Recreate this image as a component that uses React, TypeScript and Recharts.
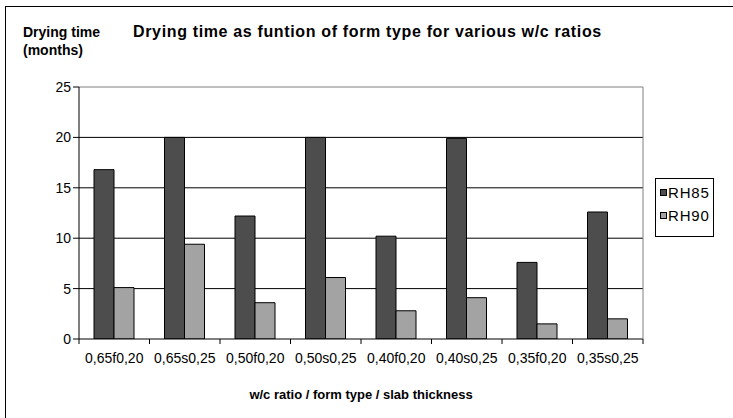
import { BarChart, Bar, XAxis, YAxis, CartesianGrid, Legend, ReferenceLine } from "recharts";

const categories = [
  "0,65f0,20",
  "0,65s0,25",
  "0,50f0,20",
  "0,50s0,25",
  "0,40f0,20",
  "0,40s0,25",
  "0,35f0,20",
  "0,35s0,25",
];
const rh85 = [16.8, 20, 12.2, 20, 10.2, 19.9, 7.6, 12.6];
const rh90 = [5.1, 9.4, 3.6, 6.1, 2.8, 4.1, 1.5, 2.0];
const yTicks = [0, 5, 10, 15, 20, 25];
const gridValues = [5, 10, 15, 20];

const data = categories.map((name, i) => ({ name, RH85: rh85[i], RH90: rh90[i] }));

const FONT = '"Liberation Sans", Arial, sans-serif';
const DARK = "#4d4d4d";
const LIGHT = "#a3a3a3";

function CategoryTick(props: any) {
  const { x, y, payload, index, visibleTicksCount } = props;
  const half = payload.offset ?? 0;
  const axisY = y - 8;
  const isLast = index === visibleTicksCount - 1;
  return (
    <g>
      <line x1={x - half} x2={x - half} y1={axisY} y2={axisY + 5} stroke="#000" />
      {isLast && <line x1={x + half} x2={x + half} y1={axisY} y2={axisY + 5} stroke="#000" />}
      <text x={x} y={y + 6} dy="0.71em" textAnchor="middle" fill="#000" fontSize={14} fontFamily={FONT}>
        {payload.value}
      </text>
    </g>
  );
}

function LegendBox(props: any) {
  const items = props.payload || [];
  return (
    <div
      style={{
        border: "1px solid #000",
        background: "#fff",
        padding: "2px 2px 9px 4px",
        fontFamily: FONT,
        fontSize: 15,
      }}
    >
      {items.map((it: any) => (
        <div key={it.value} style={{ display: "flex", alignItems: "center", height: 23 }}>
          <span
            style={{
              display: "inline-block",
              width: 5,
              height: 5,
              border: "1px solid #000",
              background: it.color,
              marginRight: 1,
            }}
          />
          <span style={{ letterSpacing: 0.8 }}>{it.value}</span>
        </div>
      ))}
    </div>
  );
}

export default function App() {
  return (
    <div
      style={{
        position: "absolute",
        left: 0,
        top: 0,
        width: 733,
        height: 418,
        overflow: "hidden",
        background: "#fff",
        fontFamily: FONT,
      }}
    >
      <div
        style={{
          position: "absolute",
          left: 5,
          top: 6,
          width: 800,
          height: 500,
          border: "1px solid #000",
        }}
      />
      <div
        style={{
          position: "absolute",
          left: 23,
          top: 23,
          fontSize: 14,
          fontWeight: "bold",
          lineHeight: "18px",
        }}
      >
        Drying time
        <br />
        (months)
      </div>
      <div
        style={{
          position: "absolute",
          left: 133,
          top: 23,
          fontSize: 16,
          fontWeight: "bold",
          lineHeight: "18px",
          letterSpacing: 0.65,
          whiteSpace: "nowrap",
        }}
      >
        Drying time as funtion of form type for various w/c ratios
      </div>
      <div
        style={{
          position: "absolute",
          left: 79,
          width: 564,
          top: 386,
          textAlign: "center",
          fontSize: 13,
          fontWeight: "bold",
          lineHeight: "18px",
        }}
      >
        w/c ratio / form type / slab thickness
      </div>
      <div style={{ position: "absolute", left: 0, top: 0 }}>
        <BarChart
          width={733}
          height={418}
          data={data}
          margin={{ top: 87, right: 89, left: 0, bottom: 0 }}
          barGap={0}
          barSize={20}
        >
          <CartesianGrid vertical={false} horizontalValues={gridValues} stroke="#000" />
          <ReferenceLine y={25} stroke="#808080" />
          <XAxis
            dataKey="name"
            height={79}
            tickLine={false}
            axisLine={{ stroke: "#000" }}
            tick={<CategoryTick />}
            interval={0}
          />
          <YAxis
            domain={[0, 25]}
            ticks={yTicks}
            width={79}
            tickSize={6}
            tickLine={{ stroke: "#000" }}
            axisLine={{ stroke: "#000" }}
            tick={{ fill: "#000", fontSize: 14, fontFamily: FONT }}
            allowDataOverflow
          />
          <YAxis
            yAxisId="right"
            orientation="right"
            width={1}
            tick={false}
            tickLine={false}
            axisLine={{ stroke: "#808080" }}
            domain={[0, 25]}
          />
          <Legend
            layout="vertical"
            align="center"
            verticalAlign="middle"
            content={<LegendBox />}
            wrapperStyle={{ left: 655, top: 178, width: 59 }}
          />
          <Bar dataKey="RH85" name="RH85" fill={DARK} stroke="#000" strokeWidth={1} isAnimationActive={false} />
          <Bar dataKey="RH90" name="RH90" fill={LIGHT} stroke="#000" strokeWidth={1} isAnimationActive={false} />
        </BarChart>
      </div>
    </div>
  );
}
